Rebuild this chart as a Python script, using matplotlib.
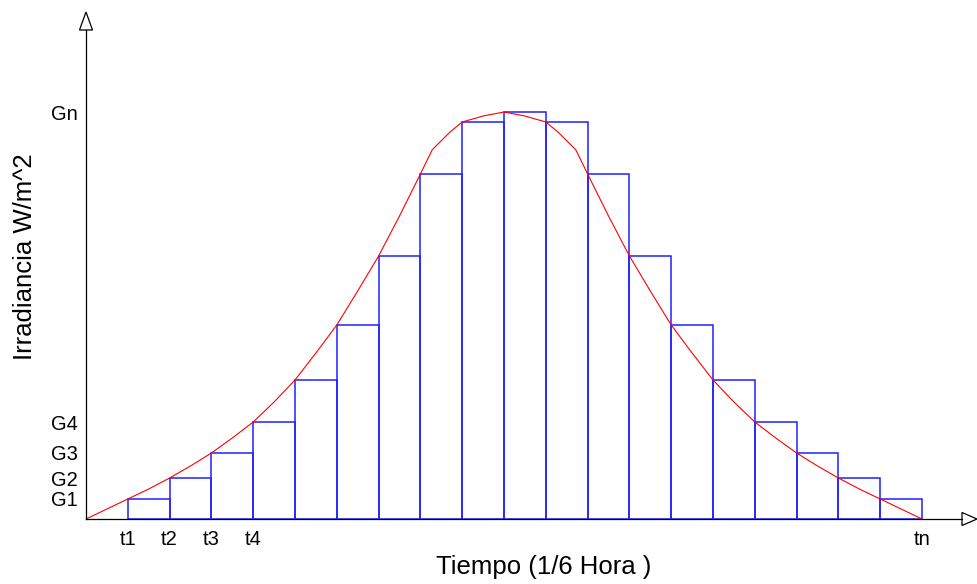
import matplotlib
matplotlib.use("Agg")
import matplotlib.pyplot as plt
from matplotlib.patches import Polygon

plt.rcParams['font.family'] = ['Liberation Sans', 'DejaVu Sans']

# bar heights at the left edge of each interval (t1 .. t19)
bar_x = list(range(1, 20))
bar_h = [20, 41, 66, 97, 139, 194, 263, 345, 397, 407,
         397, 345, 263, 194, 139, 97, 66, 41, 20]

# red irradiance curve
curve_x = [0, 0.5, 1, 1.5, 2, 2.5, 3, 3.5, 4, 4.5, 5, 5.5, 6, 6.5, 7, 7.5, 8,
           8.28, 8.47, 8.71, 9, 9.5, 10, 10.5, 11, 11.29, 11.53, 11.72,
           12, 12.5, 13, 13.5, 14, 14.5, 15, 15.5, 16, 16.5, 17, 17.5, 18,
           18.5, 19, 19.5, 20]
curve_y = [0, 10, 20, 30, 41, 53, 66, 81, 97, 117, 139, 166, 194, 228, 263, 303, 345,
           369, 377, 387, 397, 403, 407, 403, 397, 387, 377, 369,
           345, 303, 263, 228, 194, 166, 139, 117, 97, 81, 66, 53, 41,
           30, 20, 10, 0]

ytick_vals = [20, 41, 66, 97, 407]
ytick_labels = ['G1', 'G2', 'G3', 'G4', 'Gn']
xtick_vals = [1, 2, 3, 4, 20]
xtick_labels = ['t1', 't2', 't3', 't4', 'tn']

W, H = 977, 584
fig = plt.figure(figsize=(W / 100, H / 100), dpi=100)
ox, oy = 86, 519          # origin in pixels (from top-left)
step = 41.8               # pixels per interval
ax = fig.add_axes([ox / W, (H - oy) / H, (W - ox) / W, oy / H])
ax.set_xlim(0, (W - ox) / step)
ax.set_ylim(0, oy)
for s in ax.spines.values():
    s.set_visible(False)

ax.bar(bar_x, bar_h, width=1, align='edge', fill=False, edgecolor='#2020ff', linewidth=1.1)
ax.plot(curve_x, curve_y, color='red', linewidth=0.8)

# axes with hollow arrow heads
ax.plot([0, 0], [0, oy - 30], color='black', linewidth=0.9, clip_on=False)
ax.plot([0, (962 - ox) / step], [0, 0], color='black', linewidth=0.9, clip_on=False)
hw = 6.5 / step
ax.add_patch(Polygon([(-hw, oy - 30), (hw, oy - 30), (0, oy - 12)], closed=True,
                     facecolor='white', edgecolor='black', linewidth=0.9, clip_on=False))
ax.add_patch(Polygon([((962 - ox) / step, -6.5), ((962 - ox) / step, 6.5), ((977 - ox) / step, 0)],
                     closed=True, facecolor='white', edgecolor='black', linewidth=0.9, clip_on=False))

ax.set_yticks(ytick_vals)
ax.set_yticklabels(ytick_labels)
ax.set_xticks(xtick_vals)
ax.set_xticklabels(xtick_labels)
ax.tick_params(length=0, labelsize=14.5)
ax.tick_params(axis='y', pad=6)
ax.tick_params(axis='x', pad=8)

fig.text(544 / W, 1 - 567 / H, 'Tiempo (1/6 Hora )', fontsize=18.5, ha='center', va='center')
fig.text(25 / W, 1 - 257 / H, 'Irradiancia W/m^2', fontsize=18.5, ha='center', va='center',
         rotation=90)

fig.savefig('out.png', dpi=100)
